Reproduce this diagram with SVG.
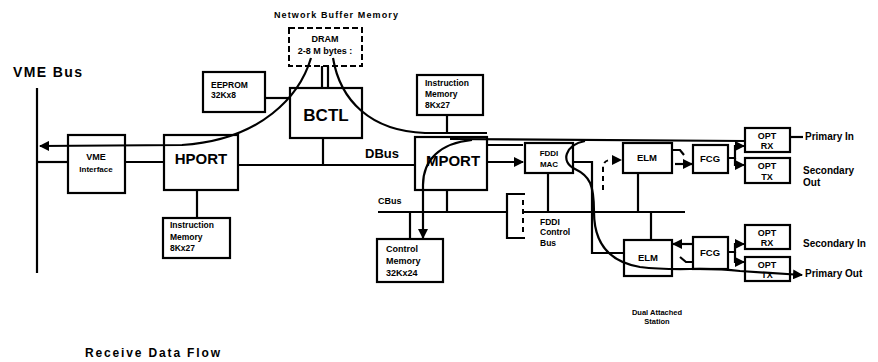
<svg xmlns="http://www.w3.org/2000/svg" width="878" height="362" viewBox="0 0 878 362">
<style>
.box{fill:#fff;stroke:#000;stroke-width:2.2}
.dash{fill:#fff;stroke:#000;stroke-width:2;stroke-dasharray:6 3}
.ln{fill:none;stroke:#000;stroke-width:2.2}
.dl{fill:none;stroke:#000;stroke-width:2;stroke-dasharray:5 4}
text{font-family:"Liberation Sans",Arial,sans-serif;font-weight:bold;fill:#000}
.c{text-anchor:middle}
</style>
<defs>
<marker id="ah" markerUnits="userSpaceOnUse" markerWidth="10" markerHeight="10" viewBox="0 0 10 10" refX="9" refY="5" orient="auto">
<path d="M0,0 L10,5 L0,10 z" fill="#000"/>
</marker>
</defs>
<rect width="878" height="362" fill="#fff"/>

<g id="vme-interface"><rect class="box" x="68" y="135" width="57" height="58"/>
<text class="c" x="96" y="160" font-size="9">VME</text><text class="c" x="96" y="172" font-size="8">Interface</text></g>
<g id="hport"><rect class="box" x="164" y="135" width="74" height="55"/>
<text class="c" x="201" y="164" font-size="15">HPORT</text></g>
<g id="imem-h"><rect class="box" x="163" y="218" width="67" height="40"/>
<text x="170" y="228" font-size="8.5">Instruction</text><text x="170" y="240" font-size="8.5">Memory</text><text x="170" y="251" font-size="8.5">8Kx27</text></g>
<g id="eeprom"><rect class="box" x="203" y="72" width="62" height="40"/>
<text x="211" y="88" font-size="8.5">EEPROM</text><text x="211" y="98" font-size="8.5">32Kx8</text></g>
<g id="dram"><text class="c" x="336" y="18" font-size="9" textLength="124">Network Buffer Memory</text>
<rect class="dash" x="289" y="28" width="73" height="38"/>
<text class="c" x="325" y="42" font-size="9">DRAM</text><text class="c" x="325" y="54" font-size="9">2-8 M bytes :</text></g>
<g id="bctl"><rect class="box" x="290" y="88" width="72" height="50"/>
<text class="c" x="326" y="121" font-size="17">BCTL</text></g>
<g id="imem-m"><rect class="box" x="417" y="75" width="66" height="40"/>
<text x="425" y="86" font-size="8.5">Instruction</text><text x="425" y="97" font-size="8.5">Memory</text><text x="425" y="108" font-size="8.5">8Kx27</text></g>
<g id="mport"><rect class="box" x="415" y="137" width="72" height="53"/>
<text class="c" x="453" y="166" font-size="15">MPORT</text></g>
<g id="fddi-mac"><rect class="box" x="525" y="143" width="48" height="30"/>
<text class="c" x="549" y="156" font-size="8">FDDI</text><text class="c" x="549" y="167" font-size="8">MAC</text></g>
<g id="cmem"><rect class="box" x="377" y="239" width="66" height="43"/>
<text x="386" y="252" font-size="9">Control</text><text x="386" y="264" font-size="9">Memory</text><text x="386" y="276" font-size="9">32Kx24</text></g>
<g id="elm-1"><rect class="box" x="623" y="143" width="49" height="30"/>
<text class="c" x="647" y="161" font-size="9.5">ELM</text></g>
<g id="fcg-1"><rect class="box" x="693" y="145" width="35" height="28"/>
<text class="c" x="710" y="162" font-size="9.5">FCG</text></g>
<g id="opt-rx-1"><rect class="box" x="745" y="128" width="45" height="24"/>
<text class="c" x="767" y="139" font-size="9">OPT</text><text class="c" x="767" y="149" font-size="9">RX</text></g>
<g id="opt-tx-1"><rect class="box" x="745" y="158" width="45" height="25"/>
<text class="c" x="767" y="169" font-size="9">OPT</text><text class="c" x="767" y="180" font-size="9">TX</text></g>
<g id="elm-2"><rect class="box" x="624" y="240" width="48" height="36"/>
<text class="c" x="648" y="261" font-size="9.5">ELM</text></g>
<g id="fcg-2"><rect class="box" x="693" y="237" width="35" height="32"/>
<text class="c" x="710" y="256" font-size="9.5">FCG</text></g>
<g id="opt-rx-2"><rect class="box" x="745" y="225" width="45" height="24"/>
<text class="c" x="767" y="236" font-size="9">OPT</text><text class="c" x="767" y="246" font-size="9">RX</text></g>
<g id="opt-tx-2"><rect class="box" x="745" y="257" width="45" height="24"/>
<text class="c" x="767" y="268" font-size="9">OPT</text><text class="c" x="767" y="278" font-size="9">TX</text></g>

<g id="connectors">
<line class="ln" x1="37" y1="88" x2="37" y2="273"/>
<line class="ln" x1="37" y1="162" x2="68" y2="162"/>
<line class="ln" x1="125" y1="162" x2="164" y2="162"/>
<line class="ln" x1="238" y1="165" x2="415" y2="165"/>
<line class="ln" x1="323" y1="138" x2="323" y2="165"/>
<line class="ln" x1="265" y1="98" x2="290" y2="98"/>
<line class="ln" x1="322" y1="66" x2="322" y2="88"/>
<line class="ln" x1="328" y1="66" x2="328" y2="88"/>
<line class="ln" x1="197" y1="190" x2="197" y2="218"/>
<line class="ln" x1="447" y1="115" x2="447" y2="133"/>
<line class="ln" x1="447" y1="190" x2="447" y2="212"/>
<line class="ln" x1="410" y1="212" x2="410" y2="238"/>
<line class="ln" x1="548" y1="173" x2="548" y2="212"/>
<line class="ln" x1="638" y1="173" x2="638" y2="212"/>
<line class="ln" x1="651" y1="212" x2="651" y2="240"/>
<line class="ln" x1="378" y1="212" x2="507" y2="212"/>
<line class="ln" x1="523" y1="212" x2="685" y2="212"/>
<path class="ln" d="M525 194 L507 194 L507 238 L525 238"/>
<line class="dl" x1="523" y1="200" x2="523" y2="234"/>
<path class="ln" d="M487 145 L523 145"/>
<path class="ln" d="M487 162 L523 162" marker-end="url(#ah)"/>
<path class="ln" d="M573 162 L592 162 L592 253 L623 253"/>
<path class="dl" d="M603 190 L603 168 Q603 160 611 160 L621 160" marker-end="url(#ah)"/>
<path class="ln" d="M672 150 L680 150 L684 155"/>
<path class="ln" d="M675 164 L692 164" marker-end="url(#ah)"/>
<path class="ln" d="M728 158 L735 158 L735 146 L744 146" marker-end="url(#ah)"/>
<path class="ln" d="M735 158 L735 165 L744 165" marker-end="url(#ah)"/>
<path class="ln" d="M692 244 L673 244" marker-end="url(#ah)"/>
<path class="ln" d="M680 257 L686 262 L692 262"/>
<path class="ln" d="M728 252 L735 252 L735 244 L744 244" marker-end="url(#ah)"/>
<path class="ln" d="M735 252 L735 262 L744 262" marker-end="url(#ah)"/>
<path class="ln" d="M311 58 C300 95 262 140 182 145 L40 146" marker-end="url(#ah)"/>
<path class="ln" d="M333 58 C340 100 370 131 425 133 L487 133"/>
<path class="ln" d="M450 139 L745 141"/>
<path class="ln" d="M790 137 L803 137"/>
<path class="ln" d="M472 140 C440 143 423 160 423 185 L423 238" marker-end="url(#ah)"/>
<path class="ln" d="M585 141 C565 145 560 162 575 169 C590 176 594 185 594 212 C594 245 610 262 640 267 C680 272 700 266 740 271 L802 275" marker-end="url(#ah)"/>
</g>

<g id="labels">
<text x="13" y="77" font-size="14" textLength="69">VME Bus</text>
<text x="365" y="158" font-size="13">DBus</text>
<text x="378" y="204" font-size="9">CBus</text>
<text x="540" y="225" font-size="8.5">FDDI</text>
<text x="540" y="235" font-size="8.5">Control</text>
<text x="540" y="246" font-size="8.5">Bus</text>
<text x="805" y="140" font-size="10">Primary In</text>
<text x="803" y="174" font-size="10">Secondary</text>
<text x="803" y="186" font-size="10">Out</text>
<text x="803" y="247" font-size="10">Secondary In</text>
<text x="805" y="277" font-size="10">Primary Out</text>
<text class="c" x="657" y="315" font-size="7.5">Dual Attached</text>
<text class="c" x="657" y="324" font-size="7.5">Station</text>
<text x="85" y="357" font-size="12" textLength="135">Receive Data Flow</text>
</g>
</svg>
